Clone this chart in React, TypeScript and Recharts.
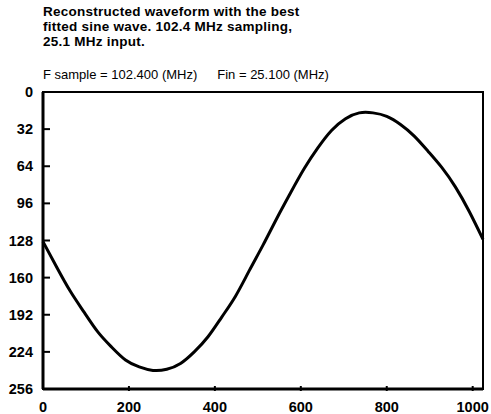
import { LineChart, Line, XAxis, YAxis, ReferenceArea } from "recharts";

// sample index along the record
const samples = [
  0, 32, 64, 96, 128, 160, 192, 224, 256, 288, 320, 352, 384, 416, 448, 480,
  512, 544, 576, 608, 640, 672, 704, 736, 768, 800, 832, 864, 896, 928, 960,
  992, 1024,
];
// reconstructed code values
const codes = [
  129, 151, 172, 190, 207, 220, 231, 237, 240, 239, 234, 224, 211, 194, 176,
  154, 132, 109, 87, 66, 48, 33, 23, 18, 18, 21, 28, 38, 51, 65, 82, 103, 127,
];
const xTicks = [0, 200, 400, 600, 800, 1000];
const yTicks = [0, 32, 64, 96, 128, 160, 192, 224, 256];

const titleLines = [
  "Reconstructed waveform with the best",
  "fitted sine wave. 102.4 MHz sampling,",
  "25.1 MHz input.",
];
const subtitleLeft = "F sample = 102.400 (MHz)";
const subtitleRight = "Fin = 25.100 (MHz)";

const data = samples.map((s, i) => ({ s, v: codes[i] }));

const font = '"Liberation Sans", Arial, sans-serif';

function YTick(props: any) {
  const { x, y, payload } = props;
  return (
    <g>
      {payload.value !== 0 && payload.value !== 256 && (
        <line x1={x} y1={y} x2={x + 7} y2={y} stroke="#000" strokeWidth={2} />
      )}
      <text
        x={x - 10}
        y={y + 5}
        textAnchor="end"
        fontFamily={font}
        fontWeight="bold"
        fontSize={14.5}
        fill="#000"
      >
        {payload.value}
      </text>
    </g>
  );
}

function XTick(props: any) {
  const { x, y, payload } = props;
  return (
    <g>
      {payload.value !== 0 && (
        <line x1={x} y1={y} x2={x} y2={y - 5} stroke="#000" strokeWidth={2} />
      )}
      <text
        x={x}
        y={y + 21}
        textAnchor="middle"
        fontFamily={font}
        fontWeight="bold"
        fontSize={14.5}
        fill="#000"
      >
        {payload.value}
      </text>
    </g>
  );
}

export default function App() {
  return (
    <div
      style={{
        position: "absolute",
        left: 0,
        top: 0,
        width: 491,
        height: 414,
        background: "#fff",
        fontFamily: font,
        color: "#000",
      }}
    >
      <div
        style={{
          position: "absolute",
          left: 43,
          top: 4,
          fontSize: 13.5,
          fontWeight: "bold",
          lineHeight: "15px",
          letterSpacing: 0.25,
        }}
      >
        {titleLines.map((t) => (
          <div key={t}>{t}</div>
        ))}
      </div>
      <div
        style={{
          position: "absolute",
          left: 43,
          top: 67,
          fontSize: 13,
          lineHeight: "15px",
          whiteSpace: "pre",
        }}
      >
        {subtitleLeft}
        <span style={{ marginLeft: 20 }}>{subtitleRight}</span>
      </div>
      <LineChart
        width={491}
        height={414}
        data={data}
        margin={{ top: 92, right: 8, left: 0, bottom: 0 }}
      >
        <XAxis
          dataKey="s"
          type="number"
          domain={[0, 1024]}
          ticks={xTicks}
          height={25}
          tickSize={0}
          tickLine={false}
          axisLine={{ stroke: "#000", strokeWidth: 3 }}
          tick={<XTick />}
          interval={0}
        />
        <YAxis
          type="number"
          domain={[0, 256]}
          reversed
          ticks={yTicks}
          width={43}
          tickSize={0}
          tickMargin={0}
          tickLine={false}
          axisLine={{ stroke: "#000", strokeWidth: 3 }}
          tick={<YTick />}
          interval={0}
        />
        <ReferenceArea
          x1={0}
          x2={1024}
          y1={0}
          y2={256}
          fill="none"
          stroke="#000"
          strokeWidth={2}
          ifOverflow="visible"
        />
        <Line
          dataKey="v"
          type="natural"
          stroke="#000"
          strokeWidth={3}
          dot={false}
          isAnimationActive={false}
        />
      </LineChart>
    </div>
  );
}
